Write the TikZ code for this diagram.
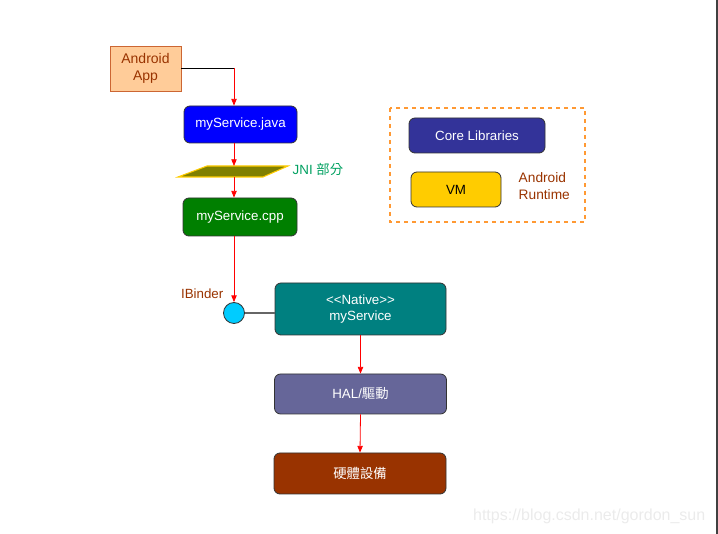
\documentclass[tikz,border=0pt]{standalone}
\usepackage{fontspec}
\setmainfont{Liberation Sans}
\newfontfamily\cjk{Noto Sans CJK TC}
\usetikzlibrary{arrows.meta, positioning, calc}
\definecolor{appfill}{HTML}{FFCC99}
\definecolor{appline}{HTML}{CC6633}
\definecolor{rustbrown}{HTML}{993300}
\definecolor{javablue}{HTML}{0000FF}
\definecolor{cppgreen}{HTML}{007F00}
\definecolor{jniolive}{HTML}{808000}
\definecolor{jnigold}{HTML}{FFCC00}
\definecolor{jnitext}{HTML}{00A060}
\definecolor{bindercyan}{HTML}{00CCFF}
\definecolor{nativeteal}{HTML}{008080}
\definecolor{halpurple}{HTML}{666699}
\definecolor{corenavy}{HTML}{333399}
\definecolor{vmyellow}{HTML}{FFCC00}
\definecolor{rtorange}{HTML}{FF9933}

\begin{document}
\begin{tikzpicture}[
  x=0.75pt, y=-0.75pt,
  modbox/.style 2 args={
    rectangle, rounded corners=4.5pt,
    minimum width=#1*0.75pt, minimum height=#2*0.75pt,
    draw=black!80, line width=0.6pt,
    font=\fontsize{10}{12}\selectfont, text=white, align=center
  },
  flow/.style={red, line width=0.6pt, -{Triangle[length=5pt, width=4pt]}}
]
  \useasboundingbox (0,0) rectangle (718,534);
  \fill[black!75] (716,0) rectangle (718,534);

  % left column
  \node[modbox={71}{45}, rounded corners=0pt, draw=appline, fill=appfill,
        text=rustbrown, font=\fontsize{10.5}{13}\selectfont] (app) at (145.5,68.5) {Android\\App};
  \node[modbox={113}{37}, fill=javablue] (java) at (240.5,124.5) {myService.java};
  \node[modbox={114}{38}, fill=cppgreen] (cpp) at (240,217) {myService.cpp};

  % JNI layer
  \draw[jnigold, fill=jniolive, line width=0.8pt]
    (178,177) -- (207,166) -- (288,166) -- (263,177) -- cycle;
  \coordinate (jnitop) at (234,166);
  \coordinate (jnibot) at (234,177);
  \node[font=\fontsize{10}{12}\selectfont, text=jnitext, anchor=west] (jnilabel)
    at (288,169) {JNI {\cjk 部分}};

  % native side
  \node[circle, draw=black!80, line width=0.6pt, fill=bindercyan,
        minimum size=21*0.75pt, inner sep=0pt] (ibinder) at (234,313) {};
  \node[font=\fontsize{10}{12}\selectfont, text=rustbrown, anchor=east] (binderlabel)
    at (228,294) {IBinder};
  \node[modbox={171}{52}, fill=nativeteal] (native) at (360.5,309) {<{}<Native>{}>\\myService};
  \node[modbox={172}{40}, fill=halpurple] (hal) at (360.5,394) {HAL/{\cjk 驅動}};
  \node[modbox={172}{41}, fill=rustbrown] (hw) at (360,473.5) {\cjk 硬體設備};

  % Android runtime
  \draw[rtorange, dashed, line width=0.8pt] (390,108) rectangle (585,222);
  \node[modbox={136}{35}, fill=corenavy] (core) at (477,135.5) {Core Libraries};
  \node[modbox={90}{35}, fill=vmyellow, text=black] (vm) at (456,189.5) {VM};
  \node[font=\fontsize{10.3}{12.5}\selectfont, text=rustbrown, align=left, anchor=west]
    (rtlabel) at (514,186) {Android\\Runtime};

  % connectors
  \coordinate (turn) at (234,68.5);
  \draw[black, line width=0.6pt] (app.east) -- (turn);
  \draw[flow] (turn) -- (turn |- java.north);
  \draw[flow] (java.south -| jnitop) -- (jnitop);
  \draw[flow] (jnibot) -- (jnibot |- cpp.north);
  \draw[flow] (cpp.south -| ibinder) -- (ibinder.north);
  \draw[black!60, line width=0.8pt] (ibinder.east) -- (ibinder.east -| native.west);
  \draw[flow] (native.south) -- (hal.north);
  \draw[flow] (hal.south) -- (hw.north);

  \node[font=\fontsize{12}{14}\selectfont, text=black!8, anchor=east] (mark)
    at (710,516) {https://blog.csdn.net/gordon\_sun};
\end{tikzpicture}
\end{document}
